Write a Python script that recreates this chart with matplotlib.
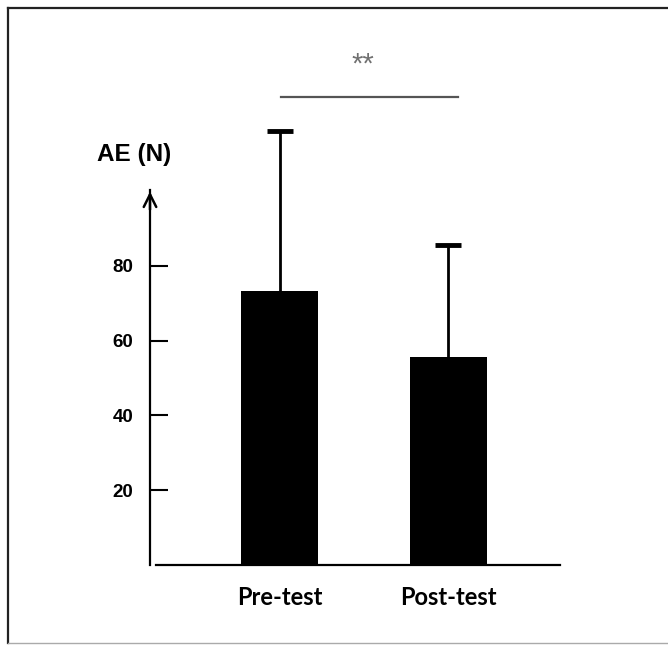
import matplotlib
matplotlib.use("Agg")
import matplotlib.pyplot as plt
from matplotlib.lines import Line2D

categories = ["Pre-test", "Post-test"]
means = [73.3, 55.6]
sd_upper = [42.7, 30.0]
yticks = [20, 40, 60, 80]
ylabel = "AE (N)"
sig_text = "**"

W, H = 668, 645
fig = plt.figure(figsize=(W/100, H/100), dpi=100)

# px geometry
x0_px, x_right_px = 150, 560
y_axis_px, y_top_px = 565, 40
px_per_unit_y = 3.74
cx0, cx1 = 279.5, 448.0
px_per_cat = cx1 - cx0

ax = fig.add_axes([x0_px/W, 1 - y_axis_px/H, (x_right_px - x0_px)/W, (y_axis_px - y_top_px)/H])
ax.set_xlim(-(cx0 - x0_px)/px_per_cat, (x_right_px - cx0)/px_per_cat)
ax.set_ylim(0, (y_axis_px - y_top_px)/px_per_unit_y)

xs = list(range(len(categories)))
ax.bar(xs, means, width=77/px_per_cat, color="black", zorder=2)
ax.errorbar(xs, means, yerr=[[0]*len(means), sd_upper], fmt="none", ecolor="black",
            elinewidth=2.0, capsize=0, zorder=3)
tops = [m + s for m, s in zip(means, sd_upper)]
ax.plot(xs, tops, linestyle="none", marker="_", markersize=19, markeredgewidth=3.5,
        color="black", zorder=3, clip_on=False)

for s in ["top", "right"]:
    ax.spines[s].set_visible(False)
arrow_top = (y_axis_px - 190)/px_per_unit_y
ax.spines["left"].set_bounds(0, arrow_top)
ax.spines["left"].set_linewidth(1.6)
ax.spines["bottom"].set_bounds((156 - cx0)/px_per_cat, ax.get_xlim()[1])
ax.spines["bottom"].set_linewidth(1.6)

# arrow head
ax.annotate("", xy=(ax.get_xlim()[0], arrow_top + 0.3), xytext=(ax.get_xlim()[0], arrow_top - 6),
            arrowprops=dict(arrowstyle="->,head_length=0.9,head_width=0.45", lw=1.8, color="black"),
            annotation_clip=False)

ax.set_yticks(yticks)
ax.set_yticklabels([str(v) for v in yticks], fontfamily="Liberation Sans", fontweight="bold", fontsize=13.5)
ax.tick_params(axis="y", direction="in", length=13, width=1.5, pad=12)
ax.set_xticks(xs)
ax.set_xticklabels(categories, fontfamily="Lato", fontweight="bold", fontsize=17)
ax.tick_params(axis="x", length=0, pad=15)

# significance
sig_y = (y_axis_px - 96.7)/px_per_unit_y
ax.plot([(281 - cx0)/px_per_cat, (458 - cx0)/px_per_cat], [sig_y, sig_y], color="#555555", lw=1.6,
        clip_on=False)
ax.text((363 - cx0)/px_per_cat, (y_axis_px - 65)/px_per_unit_y, sig_text, ha="center", va="center",
        fontsize=21, color="#707070", fontfamily="Liberation Sans")

fig.text(134.5/W, 1 - 154/H, ylabel, ha="center", va="center", fontfamily="Liberation Sans",
         fontweight="bold", fontsize=17.5)

# frame
fig.add_artist(Line2D([7.5/W, 7.5/W], [1 - 8/H, 1 - 643/H], color="#222222", lw=1.6))
fig.add_artist(Line2D([7.5/W, 1.0], [1 - 8/H, 1 - 8/H], color="#222222", lw=1.6))
fig.add_artist(Line2D([7.5/W, 1.0], [1 - 643/H, 1 - 643/H], color="#aaaaaa", lw=1.0))

fig.savefig("out.png", dpi=100)
